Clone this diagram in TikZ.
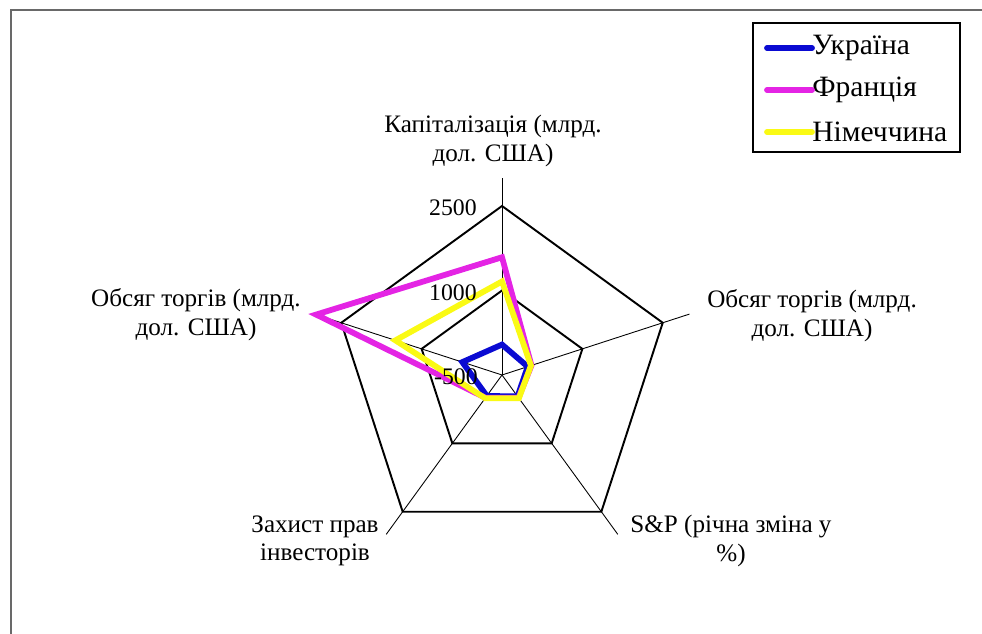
\documentclass[tikz,border=0pt]{standalone}
\usepackage{fontspec}
\setmainfont{Liberation Serif}
\usetikzlibrary{positioning}
\definecolor{uablue}{RGB}{10,10,210}
\definecolor{frmagenta}{RGB}{228,36,228}
\definecolor{deyellow}{RGB}{250,250,20}
\definecolor{framegray}{RGB}{105,105,105}
\tikzstyle{ring} = [draw=black, line width=1.1pt, line join=miter]
\tikzstyle{spoke} = [draw=black, line width=0.5pt]
\tikzstyle{series} = [line width=3.3pt, line join=miter, miter limit=20]
\tikzstyle{axislabel} = [align=center, font=\fontsize{14.3}{16.3}\selectfont, inner
sep=0pt]
\tikzstyle{ticklabel} = [anchor=east, font=\fontsize{13.5}{16}\selectfont, inner sep=0pt]
\tikzstyle{legendtext} = [anchor=west, font=\fontsize{16.8}{19}\selectfont, inner sep=0pt]
\tikzstyle{legendbox} = [draw=black, line width=0.6pt]

\begin{document}
\begin{tikzpicture}[x=0.02cm, y=0.02cm, declare function={valr(\v)=(\v+500)/3000*169;}]

\useasboundingbox (0,0) rectangle (982,634);
\draw[framegray, line width=1pt] (11,0) -- (11,624) -- (982,624);

\coordinate(O) at (502,259);
\begin{scope}[shift={(O)}]
\coordinate(axCap) at (90:197);
\coordinate(axVolR) at (18:197);
\coordinate(axSP) at (-54:197);
\coordinate(axProt) at (-126:197);
\coordinate(axVolL) at (162:197);

\draw[spoke](O) -- (axCap);
\draw[spoke](O) -- (axVolR);
\draw[spoke](O) -- (axSP);
\draw[spoke](O) -- (axProt);
\draw[spoke](O) -- (axVolL);

\draw[ring](90:169) -- (18:169) -- (-54:169) -- (-126:169) -- (162:169) -- cycle;
\draw[ring](90:84.5) -- (18:84.5) -- (-54:84.5) -- (-126:84.5) -- (162:84.5) -- cycle;

% Ukraine, France, Germany
\draw[series, uablue](90:{valr(40)}) -- (18:{valr(-20)}) -- (-54:{valr(-30)}) --
(-126:{valr(-40)}) -- (162:{valr(240)}) -- cycle;
\draw[series, frmagenta](90:{valr(1590)}) -- (18:{valr(50)}) -- (-54:{valr(0)}) --
(-126:{valr(0)}) -- (162:{valr(2970)}) -- cycle;
\draw[series, deyellow](90:{valr(1160)}) -- (18:{valr(40)}) -- (-54:{valr(10)}) --
(-126:{valr(10)}) -- (162:{valr(1490)}) -- cycle;
\end{scope}

\node(t2500)[ticklabel] at (477,426){2500};
\node(t1000)[ticklabel] at (477,341){1000};
\node(tm500)[ticklabel] at (478,257){-500};

\node(capLabel)[axislabel] at (493,493){Капіталізація (млрд.\\дол. США)};
\node(volRLabel)[axislabel] at (812,318){Обсяг торгів (млрд.\\дол. США)};
\node(spLabel)[axislabel] at (731,93){S\&P (річна зміна у\\\%)};
\node(protLabel)[axislabel] at (315,93){Захист прав\\інвесторів};
\node(volLLabel)[axislabel] at (196,319){Обсяг торгів (млрд.\\дол. США)};

\draw[legendbox](753,482) rectangle (960,611);
\node(lgUa)[legendtext] at (812,586){Україна};
\node(lgFr)[legendtext] at (812,544){Франція};
\node(lgDe)[legendtext] at (812,502){Німеччина};
\draw[series, uablue, line cap=round](lgUa.west) -- ++(-45,0);
\draw[series, frmagenta, line cap=round](lgFr.west) -- ++(-45,0);
\draw[series, deyellow, line cap=round](lgDe.west) -- ++(-45,0);

\end{tikzpicture}
\end{document}
